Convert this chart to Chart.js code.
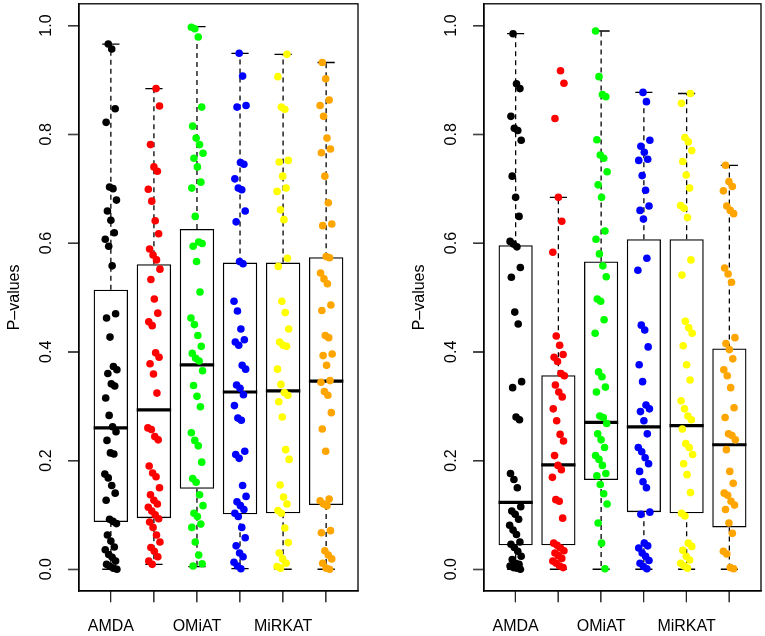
<!DOCTYPE html>
<html>
<head>
<meta charset="utf-8">
<script src="https://cdn.jsdelivr.net/npm/chart.js@4.4.1/dist/chart.umd.min.js"></script>
<style>
  html, body { margin: 0; padding: 0; background: #ffffff; }
  #wrap { position: relative; width: 765px; height: 636px; background: #ffffff; }
  .panel { position: absolute; top: 0; }
</style>
</head>
<body>
<div id="wrap">
  <canvas id="left" class="panel" width="382" height="636" style="left:0px;width:382px;height:636px"></canvas>
  <canvas id="right" class="panel" width="383" height="636" style="left:382px;width:383px;height:636px"></canvas>
</div>
<script>
// ---------- data ----------
const groupLabels = ['AMDA', '', 'OMiAT', '', 'MiRKAT', ''];
const groupColors = ['#000000', '#FF0000', '#00FF00', '#0000FF', '#FFFF00', '#FFA500'];
const yTickValues = [0.0, 0.2, 0.4, 0.6, 0.8, 1.0];
const yTitle = 'P–values';

// Left panel box statistics (per group)
const leftLower  = [0.000, 0.009, 0.005, 0.001, 0.000, 0.000];
const leftQ1     = [0.087, 0.094, 0.148, 0.101, 0.103, 0.118];
const leftMedian = [0.260, 0.293, 0.376, 0.326, 0.328, 0.346];
const leftQ3     = [0.514, 0.561, 0.626, 0.564, 0.564, 0.574];
const leftUpper  = [0.966, 0.884, 0.998, 0.949, 0.947, 0.932];

// Left panel points
const leftG1 = [0.966,0.957,0.847,0.822,0.703,0.700,0.679,0.659,0.642,0.619,0.607,0.594,0.558,0.470,0.462,0.427,0.373,0.367,0.360,0.341,0.337,0.315,0.283,0.262,0.253,0.237,0.214,0.212,0.175,0.168,0.154,0.140,0.127,0.092,0.088,0.084,0.063,0.052,0.041,0.036,0.027,0.022,0.015,0.009,0.005,0.002,0.000];
const leftG2 = [0.884,0.852,0.781,0.740,0.732,0.699,0.677,0.641,0.617,0.589,0.578,0.569,0.552,0.533,0.497,0.471,0.455,0.448,0.398,0.390,0.378,0.359,0.324,0.260,0.257,0.244,0.238,0.190,0.177,0.170,0.150,0.137,0.127,0.120,0.114,0.107,0.100,0.093,0.087,0.077,0.063,0.050,0.040,0.033,0.023,0.015,0.009];
const leftG3 = [0.997,0.994,0.979,0.850,0.815,0.793,0.781,0.765,0.756,0.740,0.712,0.701,0.649,0.602,0.599,0.594,0.566,0.510,0.462,0.450,0.430,0.410,0.397,0.388,0.383,0.365,0.338,0.318,0.299,0.251,0.237,0.227,0.197,0.167,0.160,0.137,0.117,0.103,0.097,0.083,0.077,0.050,0.026,0.010,0.006];
const leftG4 = [0.949,0.907,0.853,0.850,0.748,0.745,0.718,0.701,0.698,0.659,0.639,0.566,0.562,0.493,0.475,0.442,0.422,0.418,0.412,0.375,0.368,0.339,0.333,0.321,0.301,0.278,0.274,0.217,0.211,0.204,0.154,0.134,0.124,0.117,0.110,0.103,0.097,0.077,0.058,0.043,0.030,0.023,0.013,0.006,0.001];
const leftG5 = [0.947,0.906,0.850,0.846,0.752,0.749,0.723,0.701,0.695,0.661,0.643,0.572,0.557,0.493,0.472,0.442,0.418,0.412,0.410,0.368,0.340,0.325,0.320,0.308,0.280,0.220,0.202,0.155,0.133,0.120,0.108,0.103,0.076,0.049,0.030,0.019,0.011,0.005,0.002];
const leftG6 = [0.932,0.902,0.863,0.853,0.833,0.793,0.773,0.766,0.723,0.674,0.635,0.632,0.575,0.573,0.545,0.534,0.525,0.486,0.476,0.430,0.426,0.396,0.393,0.375,0.347,0.344,0.327,0.320,0.288,0.258,0.217,0.129,0.126,0.120,0.117,0.071,0.067,0.034,0.026,0.019,0.011,0.002,0.000];

// Right panel box statistics (per group)
const rightLower  = [0.000, 0.000, 0.000, 0.000, 0.000, 0.000];
const rightQ1     = [0.044, 0.044, 0.164, 0.105, 0.103, 0.077];
const rightMedian = [0.123, 0.192, 0.270, 0.262, 0.264, 0.229];
const rightQ3     = [0.596, 0.357, 0.566, 0.607, 0.607, 0.406];
const rightUpper  = [0.985, 0.684, 0.990, 0.877, 0.875, 0.743];

// Right panel points
const rightG1 = [0.985,0.893,0.884,0.833,0.811,0.807,0.789,0.723,0.684,0.649,0.603,0.598,0.593,0.555,0.537,0.473,0.451,0.345,0.334,0.280,0.275,0.176,0.165,0.150,0.115,0.107,0.101,0.092,0.081,0.072,0.064,0.050,0.046,0.040,0.033,0.024,0.018,0.011,0.009,0.006,0.003,0.002,0.000];
const rightG2 = [0.917,0.894,0.829,0.684,0.640,0.583,0.429,0.412,0.395,0.390,0.382,0.360,0.356,0.339,0.326,0.317,0.295,0.273,0.248,0.236,0.209,0.191,0.183,0.169,0.128,0.125,0.094,0.048,0.044,0.039,0.034,0.030,0.025,0.020,0.015,0.011,0.006,0.003];
const rightG3 = [0.990,0.906,0.873,0.869,0.790,0.762,0.756,0.731,0.707,0.684,0.622,0.607,0.580,0.558,0.538,0.497,0.493,0.459,0.434,0.363,0.354,0.335,0.326,0.282,0.279,0.268,0.249,0.238,0.224,0.209,0.202,0.191,0.176,0.172,0.156,0.139,0.120,0.085,0.048,0.001];
const rightG4 = [0.877,0.860,0.789,0.778,0.767,0.754,0.752,0.724,0.697,0.668,0.660,0.644,0.572,0.550,0.449,0.440,0.409,0.376,0.345,0.302,0.295,0.290,0.273,0.249,0.224,0.216,0.205,0.194,0.180,0.161,0.150,0.105,0.101,0.048,0.043,0.039,0.030,0.024,0.016,0.011,0.005,0.001];
const rightG5 = [0.875,0.857,0.794,0.786,0.770,0.750,0.725,0.701,0.669,0.664,0.647,0.569,0.541,0.456,0.444,0.434,0.411,0.376,0.348,0.310,0.295,0.282,0.275,0.258,0.231,0.224,0.211,0.194,0.174,0.141,0.103,0.098,0.048,0.042,0.035,0.024,0.017,0.011,0.006,0.002];
const rightG6 = [0.743,0.713,0.704,0.696,0.668,0.660,0.654,0.554,0.543,0.528,0.426,0.415,0.404,0.387,0.367,0.356,0.334,0.297,0.279,0.249,0.246,0.238,0.220,0.180,0.158,0.140,0.136,0.125,0.118,0.110,0.085,0.066,0.033,0.028,0.003,0.001];

// ---------- drawing ----------
Chart.defaults.font.family = '"Liberation Sans", Arial, Helvetica, sans-serif';
Chart.defaults.color = '#000000';

// axis ranges (R-style 4% extension)
const X_MIN = 0.26, X_MAX = 6.74, Y_MIN = -0.04, Y_MAX = 1.04;
const TICK_PX = 11;

// small horizontal scatter so overlapping points can be seen (visual only)
function jitter(g, j) {
  return ((((j + 1) * 37 + g * 11) % 29) / 28 - 0.5) * 0.28;
}

const framePlugin = {
  id: 'frame',
  beforeDatasetsDraw(chart) {
    const a = chart.chartArea, ctx = chart.ctx;
    ctx.save();
    ctx.strokeStyle = '#000';
    ctx.lineWidth = 1.3;
    ctx.strokeRect(a.left, a.top, a.right - a.left, a.bottom - a.top);
    ctx.restore();
  },
  afterDraw(chart) {
    const a = chart.chartArea, ctx = chart.ctx, ys = chart.scales.y, xs = chart.scales.x;
    ctx.save();
    ctx.fillStyle = '#000';
    // tick marks drawn as box-drawing glyphs (vertical bar ~11px long)
    const em = 9.45, asc = 0.928 * em;
    ctx.font = em + 'px "DejaVu Sans Mono", monospace';
    ctx.textAlign = 'center';
    ctx.textBaseline = 'alphabetic';
    groupLabels.forEach((_, i) => {
      const px = xs.getPixelForValue(i + 1);
      ctx.fillText('\u2502', px - 0.3, a.bottom + asc);
      ctx.fillText('\u2502', px + 0.3, a.bottom + asc);
    });
    yTickValues.forEach(v => {
      const py = ys.getPixelForValue(v);
      [-0.3, 0.3].forEach(d => {
        ctx.save();
        ctx.translate(a.left - TICK_PX + asc, py + d);
        ctx.rotate(-Math.PI / 2);
        ctx.fillText('\u2502', 0, 0);
        ctx.restore();
      });
    });
    // rotated y tick labels
    ctx.font = '16px "Liberation Sans", Arial, sans-serif';
    ctx.textAlign = 'center';
    ctx.textBaseline = 'middle';
    yTickValues.forEach(v => {
      ctx.save();
      ctx.translate(a.left - 32, ys.getPixelForValue(v));
      ctx.rotate(-Math.PI / 2);
      ctx.fillText(v.toFixed(1), 0, 0);
      ctx.restore();
    });
    ctx.restore();
  }
};

function makePanel(canvasId, lower, q1, med, q3, upper, groups, padLeft, padRight) {
  const n = groupLabels.length;
  const boxes = [], whiskers = [], caps = [], medians = [];
  for (let i = 0; i < n; i++) {
    const x = i + 1;
    boxes.push({ x: x, y: [q1[i], q3[i]] });
    whiskers.push({ x: x, y: q3[i] }, { x: x, y: upper[i] }, { x: x, y: null },
                  { x: x, y: q1[i] }, { x: x, y: lower[i] }, { x: x, y: null });
    caps.push({ x: x - 0.2, y: upper[i] }, { x: x + 0.2, y: upper[i] }, { x: x, y: null },
              { x: x - 0.2, y: lower[i] }, { x: x + 0.2, y: lower[i] }, { x: x, y: null });
    medians.push({ x: x - 0.4, y: med[i] }, { x: x + 0.4, y: med[i] }, { x: x, y: null });
  }
  const datasets = [
    { type: 'bar', data: boxes, backgroundColor: 'rgba(255,255,255,0)', borderColor: '#000',
      borderWidth: 1.3, borderSkipped: false, barPercentage: 0.8, categoryPercentage: 1.0, order: 5 },
    { type: 'line', data: whiskers, borderColor: '#000', borderWidth: 1.3, borderDash: [5, 4],
      pointRadius: 0, spanGaps: false, tension: 0, fill: false, order: 4 },
    { type: 'line', data: caps, borderColor: '#000', borderWidth: 1.3,
      pointRadius: 0, spanGaps: false, tension: 0, fill: false, order: 3 },
    { type: 'line', data: medians, borderColor: '#000', borderWidth: 3.2, borderCapStyle: 'butt',
      pointRadius: 0, spanGaps: false, tension: 0, fill: false, order: 2 }
  ];
  groups.forEach((vals, g) => {
    datasets.push({
      type: 'scatter',
      data: vals.map((v, j) => ({ x: g + 1 + jitter(g, j), y: v })),
      backgroundColor: groupColors[g], borderColor: groupColors[g], borderWidth: 0,
      pointRadius: 3.8, pointHoverRadius: 3.8, order: 0
    });
  });

  return new Chart(document.getElementById(canvasId), {
    type: 'scatter',
    data: { datasets: datasets },
    plugins: [framePlugin],
    options: {
      responsive: false,
      animation: false,
      devicePixelRatio: 1,
      layout: { padding: { left: padLeft, right: padRight, top: 3, bottom: 0 } },
      plugins: { legend: { display: false }, tooltip: { enabled: false } },
      scales: {
        x: {
          type: 'linear', min: X_MIN, max: X_MAX, offset: false,
          afterBuildTicks: s => { s.ticks = groupLabels.map((_, i) => ({ value: i + 1 })); },
          afterFit: s => { s.height = 45; },
          ticks: {
            callback: v => groupLabels[Math.round(v) - 1],
            autoSkip: false, maxRotation: 0, minRotation: 0, padding: 15,
            font: { size: 16 }, color: '#000'
          },
          grid: { display: false, drawTicks: true, tickLength: TICK_PX },
          border: { display: true, color: '#000', width: 1.3 }
        },
        y: {
          type: 'linear', min: Y_MIN, max: Y_MAX,
          afterBuildTicks: s => { s.ticks = yTickValues.map(v => ({ value: v })); },
          afterFit: s => { s.width = 79; },
          ticks: { display: false },
          grid: { display: false, drawTicks: true, tickLength: TICK_PX },
          border: { display: true, color: '#000', width: 1.3 },
          title: { display: true, text: yTitle, font: { size: 16 }, color: '#000', padding: { top: 5, bottom: 0 } }
        }
      }
    }
  });
}

makePanel('left', leftLower, leftQ1, leftMedian, leftQ3, leftUpper,
  [leftG1, leftG2, leftG3, leftG4, leftG5, leftG6], 0, 24);
makePanel('right', rightLower, rightQ1, rightMedian, rightQ3, rightUpper,
  [rightG1, rightG2, rightG3, rightG4, rightG5, rightG6], 23, 4);
</script>
</body>
</html>
